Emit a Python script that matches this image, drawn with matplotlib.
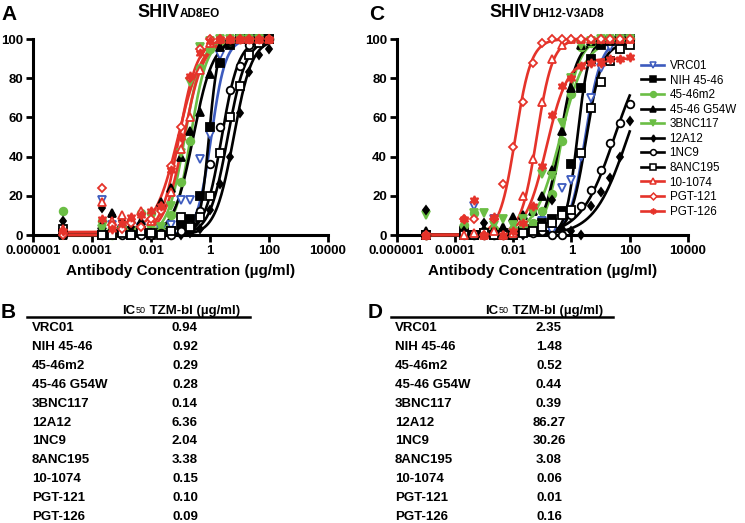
import numpy as np
import matplotlib
matplotlib.use("Agg")
import matplotlib.pyplot as plt
from matplotlib.lines import Line2D

plt.rcParams['font.family'] = ['Liberation Sans', 'DejaVu Sans']

# ---------------- data ----------------
conc = [1e-5, 0.000215, 0.000464, 0.001, 0.00215, 0.00464, 0.01, 0.0215, 0.0464,
        0.1, 0.215, 0.464, 1, 2.15, 4.64, 10, 21.5, 46.4, 100]

antibodies = ["VRC01", "NIH 45-46", "45-46m2", "45-46 G54W", "3BNC117", "12A12",
              "1NC9", "8ANC195", "10-1074", "PGT-121", "PGT-126"]

# Panel A: SHIV AD8EO, % neutralization
vrc01_A   = [0, 18, 5, 3, 2, 4, 1, 3, 5, 18, 18, 39, 51, 92, 98, 100, 100, 99, 100]
nih4546_A = [1, 0, 0, 2, 0, 1, 0, 1, 2, 5, 8, 20, 55, 88, 97, 100, 100, 100, 100]
m2_A      = [12, 7, 0, 4, 3, 11, 11, 2, 10, 27, 48, 85, 95, 99, 99, 100, 100, 100, 100]
g54w_A    = [0, 5, 11, 5, 8, 7, 3, 17, 24, 40, 53, 63, 82, 96, 99, 100, 100, 100, 100]
bnc117_A  = [0, 3, 1, 2, 0, 2, 3, 4, 15, 42, 78, 96, 99, 100, 100, 100, 100, 100, 100]
a12_A     = [7, 14, 10, 7, 4, 2, 1, 0, 0, 0, 1, 3, 13, 26, 40, 62, 83, 92, 95]
nc9_A     = [1, 0, 2, 0, 1, 0, 0, 1, 0, 2, 5, 12, 36, 55, 74, 86, 97, 99, 100]
anc195_A  = [3, 0, 0, 1, 0, 2, 1, 0, 2, 9, 4, 9, 20, 42, 60, 76, 92, 98, 100]
t1074_A   = [3, 17, 7, 10, 8, 12, 7, 15, 22, 44, 60, 84, 98, 100, 100, 100, 100, 100, 100]
pgt121_A  = [0, 24, 5, 3, 6, 4, 8, 12, 35, 55, 80, 95, 100, 100, 100, 100, 100, 100, 100]
pgt126_A  = [2, 8, 3, 6, 9, 10, 12, 15, 33, 50, 81, 93, 99, 100, 100, 100, 100, 100, 100]

# Panel C: SHIV DH12-V3AD8, % neutralization
vrc01_C   = [0, 1, 15, 0, 8, 1, 1, 0, 2, 7, 2, 24, 28, 40, 70, 85, 96, 98, 99]
nih4546_C = [0, 2, 0, 1, 0, 1, 0, 2, 3, 6, 8, 12, 36, 75, 90, 97, 99, 100, 100]
m2_C      = [0, 5, 11, 2, 3, 1, 3, 5, 6, 12, 21, 48, 72, 96, 98, 100, 100, 100, 100]
g54w_C    = [2, 1, 0, 3, 3, 4, 9, 10, 12, 20, 33, 53, 75, 97, 99, 100, 100, 100, 100]
bnc117_C  = [10, 3, 11, 11, 5, 8, 5, 8, 11, 31, 30, 57, 80, 97, 99, 100, 100, 100, 100]
a12_C     = [13, 2, 0, 6, 0, 1, 0, 0, 1, 5, 18, 3, 2, 0, 15, 22, 29, 40, 58]
nc9_C     = [0, 0, 0, 0, 0, 0, 0, 1, 1, 2, 0, 0, 10, 15, 23, 33, 47, 57, 67]
anc195_C  = [0, 0, 0, 1, 0, 0, 0, 1, 2, 4, 6, 10, 13, 42, 65, 78, 89, 95, 97]
t1074_C   = [0, 0, 1, 0, 2, 0, 1, 20, 39, 68, 90, 97, 100, 100, 100, 100, 100, 100, 100]
pgt121_C  = [0, 8, 8, 0, 8, 26, 45, 68, 88, 98, 100, 100, 100, 100, 100, 100, 100, 100, 100]
pgt126_C  = [0, 8, 18, 0, 9, 0, 2, 6, 15, 35, 61, 76, 80, 86, 88, 88, 90, 90, 91]

# fitted curve parameters (midpoint, hill slope, top, bottom)
mid_A  = [1.1, 0.92, 0.22, 0.27, 0.14, 6.36, 2.5, 4.0, 0.13, 0.09, 0.085]
hill_A = [1.8, 2.8, 1.6, 1.3, 1.5, 1.4, 1.5, 1.4, 1.3, 1.4, 1.1]
top_A  = [100, 100, 100, 100, 100, 100, 100, 100, 100, 100, 100]
bot_A  = [0, 0, 0, 0, 0, 0, 0, 0, 0, 0, 1.5]

mid_C  = [3.0, 1.6, 0.48, 0.42, 0.42, 86, 30, 3.2, 0.065, 0.012, 0.14]
hill_C = [1.6, 2.2, 1.5, 1.5, 1.0, 0.75, 0.75, 1.6, 1.6, 1.6, 1.2]
top_C  = [100, 100, 100, 100, 100, 100, 100, 98, 100, 100, 90]
bot_C  = [0, 0, 0, 0, 0, 0, 0, 0, 0, 0, 0]

# IC50 tables
ic50_B = ["0.94", "0.92", "0.29", "0.28", "0.14", "6.36", "2.04", "3.38", "0.15", "0.10", "0.09"]
ic50_D = ["2.35", "1.48", "0.52", "0.44", "0.39", "86.27", "30.26", "3.08", "0.06", "0.01", "0.16"]

xtick_vals = [1e-6, 1e-4, 1e-2, 1, 1e2, 1e4]
xtick_labels = ["0.000001", "0.0001", "0.01", "1", "100", "10000"]
ytick_vals = [0, 20, 40, 60, 80, 100]

# ---------------- styles ----------------
BLUE = "#3D5BBE"
GREEN = "#6BBE45"
RED = "#E5332A"
BLACK = "#000000"
styles = [
    dict(color=BLUE, marker='v', mfc='white'),
    dict(color=BLACK, marker='s', mfc=BLACK),
    dict(color=GREEN, marker='o', mfc=GREEN),
    dict(color=BLACK, marker='^', mfc=BLACK),
    dict(color=GREEN, marker='v', mfc=GREEN),
    dict(color=BLACK, marker='d', mfc=BLACK),
    dict(color=BLACK, marker='o', mfc='white'),
    dict(color=BLACK, marker='s', mfc='white'),
    dict(color=RED, marker='^', mfc='white'),
    dict(color=RED, marker='D', mfc='white'),
    dict(color=RED, marker=(6, 1, 0), mfc=RED),
]

data_A = [vrc01_A, nih4546_A, m2_A, g54w_A, bnc117_A, a12_A, nc9_A, anc195_A, t1074_A, pgt121_A, pgt126_A]
data_C = [vrc01_C, nih4546_C, m2_C, g54w_C, bnc117_C, a12_C, nc9_C, anc195_C, t1074_C, pgt121_C, pgt126_C]

W, H = 745, 523
fig = plt.figure(figsize=(W / 100, H / 100), dpi=100)


def fx(px):
    return px / W


def fy(py):
    return 1 - py / H


def curve(x, mid, h, top, bot):
    return bot + (top - bot) / (1 + (mid / x) ** h)


def draw_panel(ax, data, mids, hills, tops, bots):
    xs = np.logspace(np.log10(conc[0]), np.log10(conc[-1]), 400)
    for i, vals in enumerate(data):
        st = styles[i]
        ax.plot(xs, curve(xs, mids[i], hills[i], tops[i], bots[i]), color=st['color'],
                lw=1.9, clip_on=False, zorder=3 + i * 0.01)
    for i, vals in enumerate(data):
        st = styles[i]
        ms = 4.5 if st['marker'] in ('d', 'D') else 5.5
        if st['marker'] == (6, 1, 0):
            ms = 6.5
        ax.plot(conc, vals, ls='none', marker=st['marker'], mfc=st['mfc'],
                mec=st['color'], mew=1.3, ms=ms, clip_on=False, zorder=4 + i * 0.01)
    ax.set_xscale('log')
    ax.set_xlim(1e-6, 1e4)
    ax.set_ylim(0, 100)
    ax.set_xticks(xtick_vals)
    ax.set_xticklabels(xtick_labels)
    ax.xaxis.set_minor_locator(matplotlib.ticker.NullLocator())
    ax.set_yticks(ytick_vals)
    for s in ('top', 'right'):
        ax.spines[s].set_visible(False)
    for s in ('left', 'bottom'):
        ax.spines[s].set_linewidth(2.2)
    ax.tick_params(axis='both', width=2.0, length=5, direction='out',
                   labelsize=9.5, pad=2)
    for lab in ax.get_xticklabels() + ax.get_yticklabels():
        lab.set_fontweight('bold')
    ax.set_xlabel("Antibody Concentration (\u00b5g/ml)", fontsize=11,
                  fontweight='bold', labelpad=5)
    ax.patch.set_alpha(0)


axA = fig.add_axes([fx(33), fy(235), fx(328 - 33), (235 - 39) / H])
draw_panel(axA, data_A, mid_A, hill_A, top_A, bot_A)
axC = fig.add_axes([fx(396.5), fy(235), fx(688 - 396.5), (235 - 39) / H])
draw_panel(axC, data_C, mid_C, hill_C, top_C, bot_C)

# panel letters
for letter, px, py in [("A", 1, 20), ("C", 369, 20), ("B", 1, 318), ("D", 368, 318)]:
    fig.text(fx(px), fy(py), letter, fontsize=15, fontweight='bold', ha='left', va='baseline')

# titles
for x0, sub in [(180, "AD8EO"), (532, "DH12-V3AD8")]:
    fig.text(fx(x0), fy(17), "SHIV", fontsize=13, fontweight='bold', ha='right', va='baseline')
    fig.text(fx(x0), fy(17), sub, fontsize=8.5, fontweight='bold', ha='left', va='baseline')

# legend
handles = []
for st in styles:
    ms = 3.5 if st['marker'] in ('d', 'D') else 4.2
    handles.append(Line2D([0], [0], color=st['color'], lw=1.9, marker=st['marker'],
                          mfc=st['mfc'], mec=st['color'], mew=1.1, ms=ms))
fig.legend(handles, antibodies, loc='upper left', bbox_to_anchor=(fx(641), fy(60)),
           frameon=False, fontsize=8.4, handlelength=2.0, handletextpad=0.45,
           labelspacing=0.22, borderaxespad=0, borderpad=0)

# tables
def draw_table(x_line0, x_line1, x_name, x_val, values):
    fig.add_artist(Line2D([fx(x_line0), fx(x_line1)], [fy(317), fy(317)],
                          color='black', lw=1.8))
    t1 = fig.text(fx(x_line1 - 128), fy(314), "IC", fontsize=9.5, fontweight='bold',
                  ha='left', va='baseline')
    t2 = plt.annotate("50", xy=(1, 0), xycoords=t1, xytext=(0.5, 1.2),
                      textcoords='offset points', fontsize=6.5, ha='left', va='bottom')
    plt.annotate(" TZM-bl (\u00b5g/ml)", xy=(1, 0), xycoords=t2, xytext=(0, -1.2),
                 textcoords='offset points', fontsize=9.5, fontweight='bold',
                 ha='left', va='bottom')
    for i, (name, val) in enumerate(zip(antibodies, values)):
        y = 328 + i * 18.9
        fig.text(fx(x_name), fy(y), name, fontsize=9.5, fontweight='bold',
                 ha='left', va='center')
        fig.text(fx(x_val), fy(y), val, fontsize=9.5, fontweight='bold',
                 ha='center', va='center')


draw_table(27, 250, 32, 185, ic50_B)
draw_table(391, 613, 395, 549, ic50_D)

fig.savefig("out.png", dpi=100)
